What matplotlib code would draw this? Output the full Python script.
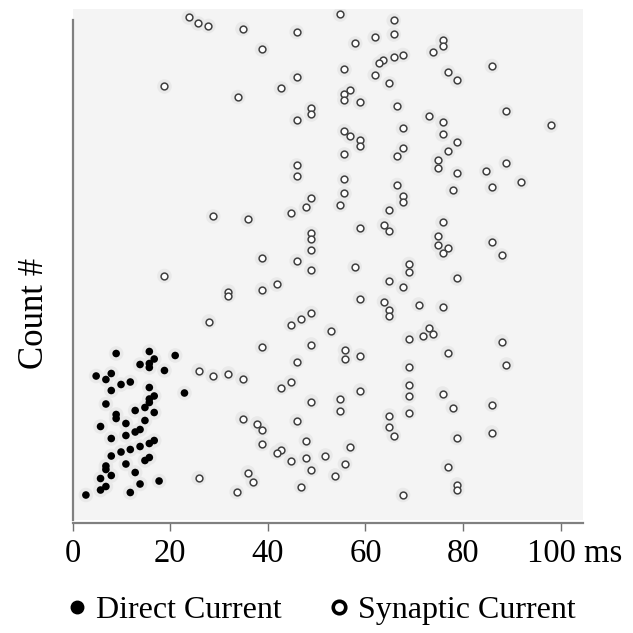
import numpy as np
import matplotlib
matplotlib.use("Agg")
import matplotlib.pyplot as plt
import matplotlib.transforms as mtransforms
from matplotlib.lines import Line2D

plt.rcParams["font.family"] = ["Liberation Serif", "DejaVu Serif"]

# --- data (x in ms, y in count units) ---
direct_x = [8.9, 15.7, 21.0, 16.7, 13.8, 15.7, 15.7, 18.8, 4.8, 7.9, 6.8, 9.9, 11.8,
            7.9, 15.7, 22.9, 16.7, 15.7, 15.7, 6.8, 12.8, 14.8, 16.7, 8.9, 8.9, 10.9,
            14.8, 5.7, 12.8, 13.8, 10.9, 7.9, 16.7, 15.7, 13.8, 11.8, 9.9, 7.9, 15.7,
            14.8, 10.9, 6.8, 6.8, 12.8, 7.9, 5.7, 17.7, 13.8, 6.8, 5.7, 11.8, 2.7]
direct_y = [33.3, 33.7, 32.9, 32.2, 31.1, 31.3, 30.5, 29.9, 28.8, 29.3, 28.1, 27.1, 27.6,
            25.9, 26.5, 25.4, 24.8, 24.2, 23.5, 23.2, 21.9, 22.5, 21.5, 21.1, 20.3, 19.3,
            19.9, 18.7, 17.6, 18.1, 16.9, 16.3, 15.9, 15.3, 14.7, 14.1, 13.6, 12.8, 12.5,
            11.9, 11.2, 10.8, 10.1, 9.5, 8.9, 8.3, 7.8, 7.2, 6.7, 6.0, 5.5, 5.0]

syn_x = [23.8, 25.7, 27.8, 34.8, 38.8, 18.8, 33.9, 45.9, 54.8, 65.8, 65.8, 61.9, 57.9,
         63.6, 62.8, 65.8, 55.7, 45.9, 42.7, 61.9, 64.9, 56.8, 55.7, 55.7, 58.9, 66.5,
         48.9, 48.9, 45.9, 55.7, 56.8, 58.9, 58.9, 55.7, 66.5, 45.9, 45.9, 55.7, 55.7,
         48.9, 66.5, 75.8, 75.8, 73.9, 67.7, 85.9, 76.9, 78.8, 88.8, 73.0, 75.8, 98.0,
         67.7, 75.8, 78.8, 67.7, 76.9, 74.9, 74.9, 88.8, 84.8, 78.8, 91.9, 85.9, 77.9,
         67.7, 28.8, 18.8, 31.9, 31.9, 27.9, 54.8, 47.8, 44.7, 35.9, 64.9, 63.8, 64.9,
         58.9, 48.9, 48.9, 48.9, 38.8, 45.9, 57.8, 48.9, 64.9, 41.8, 38.8, 58.9, 63.8,
         64.9, 64.9, 48.9, 46.8, 44.7, 52.9, 38.8, 48.9, 55.8, 55.8, 58.9, 45.9, 67.7,
         75.8, 74.9, 74.9, 76.9, 75.8, 85.9, 87.9, 68.9, 68.9, 67.7, 78.8, 70.9, 75.8,
         73.0, 71.8, 73.9, 68.9, 76.9, 87.9, 88.9, 68.9, 25.8, 28.7, 31.9, 25.8, 33.6,
         34.8, 44.7, 42.7, 58.9, 48.9, 54.8, 54.8, 34.8, 37.8, 38.8, 45.9, 64.9, 64.9,
         65.8, 47.8, 38.8, 56.8, 42.7, 41.8, 44.7, 47.8, 51.8, 48.9, 55.8, 53.8, 35.9,
         36.9, 46.8, 68.9, 68.9, 68.9, 75.8, 77.9, 85.9, 78.8, 85.9, 76.9, 78.8, 78.8,
         67.7]
syn_y = [100.5, 99.3, 98.8, 98.2, 94.1, 86.7, 84.6, 97.6, 101.1, 99.9, 97.1, 96.5, 95.3,
         91.9, 91.3, 92.5, 90.1, 88.5, 86.3, 89.0, 87.3, 85.9, 85.2, 84.0, 83.5, 82.8,
         82.3, 81.1, 80.0, 77.8, 76.7, 76.0, 74.8, 73.1, 72.7, 70.9, 68.7, 68.1, 65.3,
         64.3, 67.0, 95.9, 94.7, 93.6, 93.0, 90.8, 89.6, 87.9, 81.7, 80.7, 79.5, 78.9,
         78.3, 77.1, 75.5, 74.3, 73.7, 72.0, 70.3, 71.4, 69.8, 69.3, 67.6, 66.5, 65.9,
         64.7, 60.7, 48.8, 45.7, 44.9, 39.7, 63.0, 62.5, 61.3, 60.1, 61.9, 59.0, 57.8,
         58.4, 57.3, 56.1, 53.9, 52.3, 51.8, 50.6, 50.0, 47.8, 47.1, 46.1, 44.3, 43.7,
         42.0, 40.8, 41.4, 40.3, 39.1, 37.9, 34.6, 35.1, 34.0, 32.2, 32.9, 31.7, 63.5,
         59.5, 56.7, 54.9, 54.3, 53.3, 55.5, 52.9, 51.2, 49.5, 46.5, 48.3, 43.1, 42.6,
         38.5, 36.9, 37.2, 36.3, 33.4, 35.7, 31.1, 30.7, 29.9, 28.8, 29.3, 8.4, 5.6,
         28.2, 27.6, 26.5, 25.9, 23.7, 24.2, 21.9, 20.3, 19.3, 18.1, 19.8, 20.9, 18.7,
         16.9, 15.9, 15.2, 14.7, 14.1, 13.5, 11.8, 12.4, 12.9, 10.1, 11.2, 8.9, 9.5,
         7.7, 6.7, 27.1, 24.8, 21.5, 25.3, 22.5, 23.1, 16.4, 17.5, 10.7, 7.1, 6.0,
         5.0]

xticks = [0, 20, 40, 60, 80, 100]
xtick_labels = ["0", "20", "40", "60", "80", "100 ms"]

fig = plt.figure(figsize=(6.33, 6.33), dpi=100)
ax = fig.add_axes([0.1149, 0.1785, 0.8062, 0.8073])
ax.set_facecolor("#f4f4f4")

# soft grey halo round each mark, as in the scanned figure
ax.scatter(syn_x + direct_x, syn_y + direct_y, s=110, color="#e9e9e9",
           edgecolors="none", zorder=1)
ax.scatter(syn_x, syn_y, s=24, facecolors="white", edgecolors="#404040",
           linewidths=1.1, zorder=3)
ax.scatter(direct_x, direct_y, s=30, color="black", edgecolors="none", zorder=3)

ax.set_xlim(0, 104.6)
ax.set_ylim(0, 102.2)
ax.set_xticks(xticks)
ax.set_xticklabels(xtick_labels)
ax.set_yticks([])
ax.tick_params(axis="x", direction="out", length=6, width=1, color="#707070",
               pad=5, labelsize=23.5)
for s in ["top", "right"]:
    ax.spines[s].set_visible(False)
ax.spines["left"].set_bounds(0, 100)
ax.spines["left"].set_color("#808080")
ax.spines["left"].set_linewidth(1.6)
ax.spines["bottom"].set_color("#808080")
ax.spines["bottom"].set_linewidth(1.6)
ax.spines["bottom"].set_position(("outward", 2))

# "100 ms": keep "100" roughly over its tick, let "ms" run to the right
last = ax.get_xticklabels()[-1]
last.set_horizontalalignment("left")
last.set_transform(last.get_transform() +
                   mtransforms.ScaledTranslation(-24 / 72, 0, fig.dpi_scale_trans))

ax.set_ylabel("Count #", fontsize=25)
ax.yaxis.set_label_coords(-0.042, 0.405)

handles = [
    Line2D([], [], ls="none", marker="o", markersize=9, color="black"),
    Line2D([], [], ls="none", marker="o", markersize=9, markerfacecolor="white",
           markeredgecolor="black", markeredgewidth=2.6),
]
fig.legend(handles, ["Direct Current", "Synaptic Current"], loc="center left",
           bbox_to_anchor=(0.086, 0.036), ncol=2, frameon=False, fontsize=23,
           handlelength=0.6, handletextpad=0.3, columnspacing=1.5,
           borderaxespad=0)

fig.savefig("out.png", dpi=100)
